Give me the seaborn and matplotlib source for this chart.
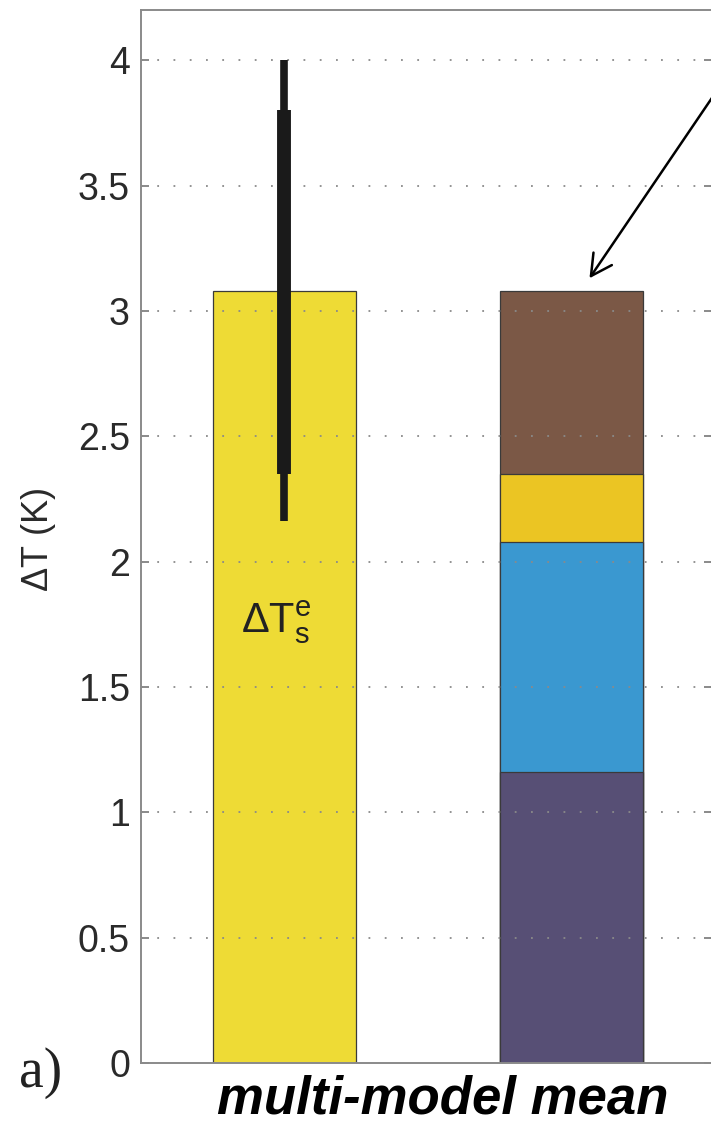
import numpy as np
import pandas as pd
import matplotlib
matplotlib.use("Agg")
import matplotlib.pyplot as plt
import seaborn as sns

# ---- data -------------------------------------------------------------
groups = ["total", "decomposition"]
total_warming = 3.08                       # Delta T_s^e, multi-model mean
total_range_likely = [2.35, 3.80]          # thick whisker
total_range_full = [2.16, 4.00]            # thin whisker

components = ["comp1", "comp2", "comp3", "comp4"]   # bottom -> top
component_values = [1.16, 0.92, 0.27, 0.73]
component_colors = ["#574F75", "#3A98D0", "#EBC523", "#7B5846"]
total_color = "#EEDB35"

yticks = [0, 0.5, 1, 1.5, 2, 2.5, 3, 3.5, 4]
ytick_labels = ["0", "0.5", "1", "1.5", "2", "2.5", "3", "3.5", "4"]

# ---- style ------------------------------------------------------------
sns.set_theme(style="white")
plt.rcParams["font.family"] = ["Liberation Sans", "DejaVu Sans"]
plt.rcParams["mathtext.fontset"] = "custom"
plt.rcParams["mathtext.rm"] = "Liberation Sans"
plt.rcParams["mathtext.it"] = "Liberation Sans:italic"
plt.rcParams["mathtext.default"] = "rm"

fig = plt.figure(figsize=(7.11, 11.25), dpi=100)
fig.patch.set_facecolor("white")
ax = fig.add_axes([141 / 711, 62 / 1125, 571 / 711, 1053 / 1125])
ax.set_facecolor("white")

bar_w = 0.5
edge = dict(edgecolor="#3a3a3a", linewidth=0.9)

# left bar: total warming
df_total = pd.DataFrame({"group": [groups[0]], "value": [total_warming]})
sns.barplot(data=df_total, x="group", y="value", order=groups, width=bar_w,
            color=total_color, saturation=1, ax=ax, zorder=2, **edge)

# right bar: stacked components, drawn as cumulative heights from the top down
cum = np.cumsum(component_values)
for top, col in zip(cum[::-1], component_colors[::-1]):
    df_c = pd.DataFrame({"group": [groups[1]], "value": [top]})
    sns.barplot(data=df_c, x="group", y="value", order=groups, width=bar_w,
                color=col, saturation=1, ax=ax, zorder=2, **edge)

# uncertainty whiskers on the total
ax.vlines(0, total_range_full[0], total_range_full[1], color="#1a1a1a",
          linewidth=5.5, zorder=4, capstyle="butt")
ax.vlines(0, total_range_likely[0], total_range_likely[1], color="#1a1a1a",
          linewidth=10, zorder=5, capstyle="butt")

ax.text(-0.03, 1.76, r"$\Delta\mathrm{T}_{\mathrm{s}}^{\mathrm{e}}$",
        ha="center", va="center", fontsize=30, color="#222222", zorder=6)

# arrow pointing at the stacked bar
ax.annotate("", xy=(1.063, 3.13), xytext=(1.505, 3.875),
            xycoords="data", textcoords="data", annotation_clip=False,
            arrowprops=dict(arrowstyle="->,head_length=0.75,head_width=0.4",
                            color="black", lw=1.8, mutation_scale=20,
                            shrinkA=0, shrinkB=0), zorder=7)

# axes cosmetics (box with inward ticks, dotted grid on top of the bars)
ax.set_xlim(-0.5, 1.49)
ax.set_ylim(0, 4.2)
ax.set_yticks(yticks)
ax.set_yticklabels(ytick_labels)
ax.set_xticks([])
ax.set_xlabel("")
for yv in yticks[1:]:
    ax.axhline(yv, color="#8a8a8a", linewidth=1.3, linestyle=(0, (1, 8)),
               zorder=3)
ax.tick_params(axis="y", which="both", direction="in", length=6, width=1.2,
               color="#777777", labelsize=27, labelcolor="#2a2a2a", pad=8,
               left=True, right=True)
for s in ax.spines.values():
    s.set_visible(True)
    s.set_color("#8a8a8a")
    s.set_linewidth(1.4)

ax.set_ylabel(r"$\Delta$T (K)", fontsize=26, color="#2a2a2a")
ax.yaxis.set_label_coords(-0.145, 0.497)

fig.text(19 / 711, 1 - 1087 / 1125, "a)", family=["Liberation Serif"],
         fontsize=40, color="#222222", ha="left", va="baseline")
fig.text(443 / 711, 1 - 1113 / 1125, "multi-model mean", fontsize=38,
         fontweight="bold", fontstyle="italic", color="black",
         ha="center", va="baseline")

fig.savefig("out.png", dpi=100, facecolor="white")
